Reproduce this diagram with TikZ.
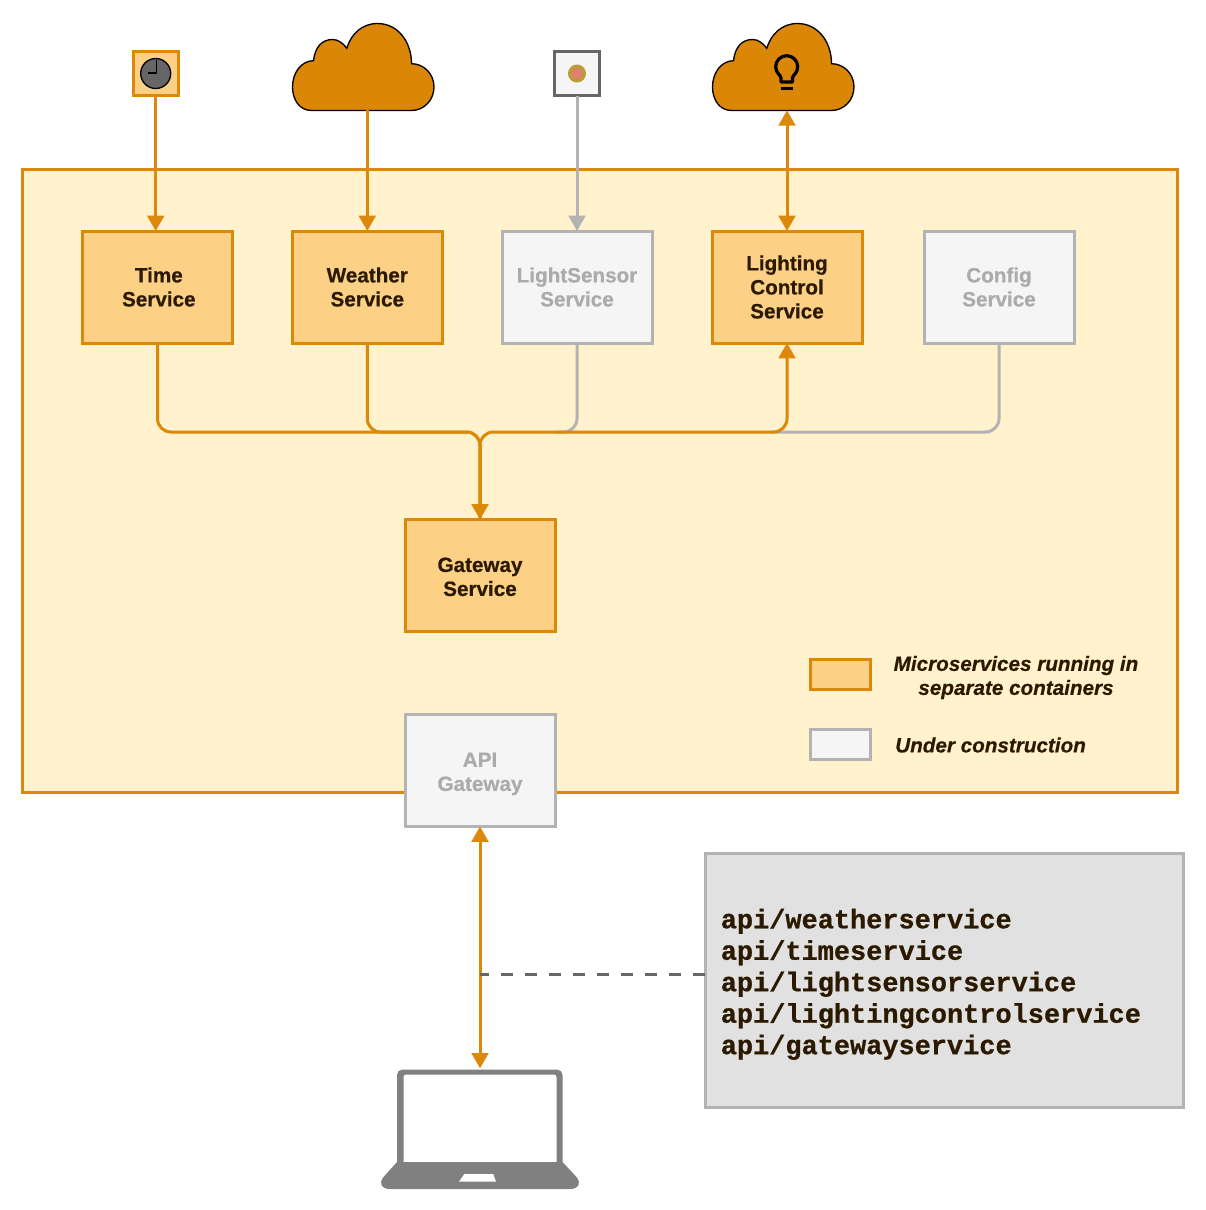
\documentclass[tikz,border=0pt]{standalone}
\usepackage{fontspec}
\setmainfont{Liberation Sans}[BoldFeatures={FakeBold=0.5},BoldItalicFeatures={FakeBold=0.5}]
\setmonofont{Liberation Mono}[BoldFeatures={FakeBold=0.8}]
\usetikzlibrary{arrows.meta,calc}
\definecolor{orangeline}{HTML}{DC8808}
\definecolor{orangefill}{HTML}{FCD085}
\definecolor{panelfill}{HTML}{FFF2CC}
\definecolor{greyfill}{HTML}{F5F5F5}
\definecolor{greyline}{HTML}{B3B3B3}
\definecolor{greytext}{HTML}{ABABAB}
\definecolor{darktext}{HTML}{2B1A00}
\definecolor{cloudfill}{HTML}{DA8606}
\definecolor{codefill}{HTML}{E1E1E1}
\definecolor{iconline}{HTML}{666666}
\definecolor{laptopgrey}{HTML}{808080}
\tikzset{
  base/.style={inner sep=0pt,outer sep=0pt,line width=2.25pt,align=center,
    font=\fontsize{15.5}{18}\selectfont\bfseries},
  svcbox/.style={base,draw=orangeline,fill=orangefill,text=darktext,minimum width=112.5pt,minimum height=84pt},
  wipbox/.style={base,draw=greyline,fill=greyfill,text=greytext,minimum width=112.5pt,minimum height=84pt},
  iconbox/.style={base,minimum width=33.5pt,minimum height=33.5pt},
  cloudhold/.style={inner sep=0pt,outer sep=0pt,minimum width=106pt,minimum height=65pt},
  live/.style={draw=orangeline,line width=2.25pt,rounded corners=10pt},
  idle/.style={draw=greyline,line width=2.25pt,rounded corners=10pt},
  tip/.style={-{Triangle[length=11.5pt,width=12.5pt]}},
  tiptwo/.style={{Triangle[length=11.5pt,width=12.5pt]}-{Triangle[length=11.5pt,width=12.5pt]}},
  legendtext/.style={inner sep=0pt,text=darktext,align=center,font=\fontsize{15.5}{18}\selectfont\bfseries\itshape},
  cloudicon/.style={draw=black,line width=1pt,fill=cloudfill},
}
\newcommand{\cloudshape}[1]{%
  \path[cloudicon,shift={(#1,0)}]
    (19.5,110.5) .. controls (7,110.5) and (0.5,99) .. (0.5,87)
    .. controls (0.5,72) and (10,60.7) .. (21.5,60.7)
    .. controls (23,47) and (30,39.5) .. (40.5,39.5)
    .. controls (46,39.5) and (51,43) .. (54.8,48.3)
    .. controls (59,34) and (70,23.5) .. (85.5,23.5)
    .. controls (106,23.5) and (119.5,42) .. (119.5,63.7)
    .. controls (132,63.7) and (142,74) .. (142,87)
    .. controls (142,100) and (132,110.5) .. (119.5,110.5)
    -- cycle;}
\begin{document}
\begin{tikzpicture}[x=0.75pt,y=-0.75pt]
\useasboundingbox (0,0) rectangle (1206,1210);
% panel
\path[draw=orangeline,fill=panelfill,line width=2.25pt] (22,169) rectangle (1177,792);
% icons
\node[iconbox,draw=orangeline,fill=orangefill] (clock) at (155.7,73.5) {};
\path[draw=black,fill=iconline,line width=1pt] (clock.center) circle (15);
\path[draw=black,line width=1pt] (156.5,60) -- (156.5,73) -- (148,73);
\node[iconbox,draw=iconline,fill=greyfill] (sensor) at (577,73.5) {};
\path[draw={rgb,255:red,181;green,160;blue,48},fill={rgb,255:red,224;green,127;blue,112},line width=2.25pt] (sensor.center) circle (7.5);
\cloudshape{292}
\node[cloudhold] (cloudW) at (363,67) {};
\cloudshape{712}
\node[cloudhold] (cloudL) at (783,67) {};
\path[draw=black,line width=2.4pt,line join=round]
  (781,82) -- (781,78) .. controls (781,75) and (775.7,73.5) .. (775.7,66.7)
  arc[start angle=180,end angle=360,radius=11]
  .. controls (797.7,73.5) and (792.5,75) .. (792.5,78)
  -- (792.5,82) -- cycle;
\path[draw=black,line width=2.4pt] (780.5,88.5) -- (792.5,88.5);
% boxes
\node[svcbox] (time) at (157.5,287) {\hspace*{2pt}Time\\\hspace*{2pt}Service};
\node[svcbox] (weather) at (367.3,287) {Weather\\Service};
\node[wipbox] (lightsensor) at (577,287) {LightSensor\\Service};
\node[svcbox] (lighting) at (787,287) {Lighting\\Control\\Service};
\node[wipbox] (config) at (999,287) {Config\\Service};
\node[svcbox] (gateway) at (480,575.5) {\rule{0pt}{12.8pt}Gateway\\Service};
\node[wipbox] (api) at (480,770.5) {\rule{0pt}{15.8pt}API\\Gateway};
\coordinate (bus) at (480,432);
\coordinate (sensorjoin) at (555,432);
\coordinate (configjoin) at (770,432);
% connectors
\draw[idle] (config.south) |- (configjoin);
\draw[idle] (lightsensor.south) |- (sensorjoin);
\draw[live] (time.south) |- (bus) -- (gateway.north);
\draw[live] (weather.south) |- (bus) -- (gateway.north);
\draw[live,tiptwo] (gateway.north) -- (bus) -| (lighting.south);
\draw[live,tip] (clock.south) -- (clock.south |- time.north);
\draw[live,tip] (cloudW.south -| weather.north) -- (weather.north);
\draw[idle,tip] (sensor.south) -- (lightsensor.north);
\draw[live,tiptwo] (lighting.north |- cloudL.south) -- (lighting.north);
% legend
\node[base,draw=orangeline,fill=orangefill,minimum width=45pt,minimum height=22.5pt] (legA) at (840,674) {};
\node[base,draw=greyline,fill=greyfill,minimum width=45pt,minimum height=22.5pt] (legB) at (840,744.5) {};
\node[legendtext] (legAtext) at (1016,677.5) {Microservices running in\\separate containers};
\node[legendtext,anchor=west] (legBtext) at (895,745) {Under construction};
% code box
\node[base,draw=greyline,fill=codefill,minimum width=359pt,minimum height=191pt] (code) at (944.5,980.5) {};
\node[inner sep=0pt,anchor=west,align=left,text=darktext,font=\fontsize{20.2}{23.6}\selectfont\ttfamily\bfseries] (codetext) at (720.5,984.3) {api/weatherservice\\api/timeservice\\api/lightsensorservice\\api/lightingcontrolservice\\api/gatewayservice};
% laptop
\path[fill=laptopgrey,rounded corners=4pt] (397,1175) -- (397,1069.5) -- (562.5,1069.5) -- (562.5,1175) -- cycle;
\path[fill=white,rounded corners=2pt] (403.5,1175) -- (403.5,1074.5) -- (556.5,1074.5) -- (556.5,1175) -- cycle;
\path[fill=laptopgrey] (397,1162) -- (383.5,1177) .. controls (378,1184) and (382,1189) .. (390,1189) -- (570,1189) .. controls (578,1189) and (582,1184) .. (576.5,1177) -- (562.5,1162) -- cycle;
\path[fill=white] (464.3,1174) -- (493.3,1174) -- (496,1181.7) -- (459,1181.7) -- cycle;
\node[inner sep=0pt,outer sep=0pt,minimum width=124pt,minimum height=1pt] (laptop) at (480,1069) {};
% client link
\coordinate (tap) at (480,974);
\draw[live,tiptwo] (api.south) -- (laptop.north);
\draw[draw=iconline,line width=2.25pt,dash pattern=on 9pt off 9pt] (tap -| code.west) -- (tap);
\end{tikzpicture}
\end{document}
